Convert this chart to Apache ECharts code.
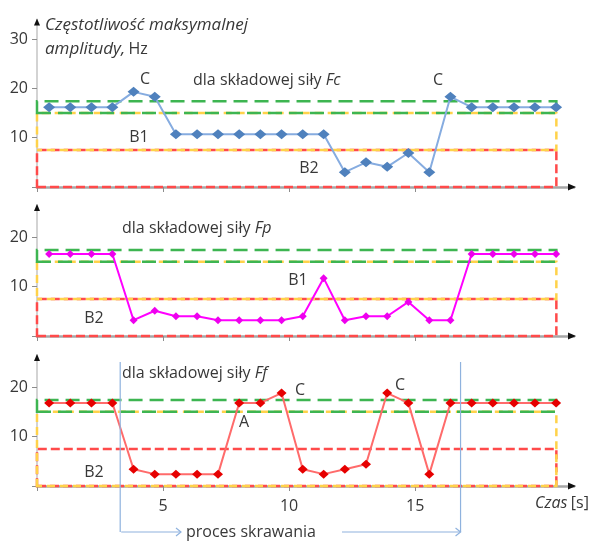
<!DOCTYPE html>
<html><head><meta charset="utf-8">
<script src="https://cdn.jsdelivr.net/npm/echarts@6/dist/echarts.min.js"></script>
<style>html,body{margin:0;padding:0;background:#fff}#c{width:589px;height:541px}</style>
</head><body><div id="c"></div>
<script>
// ---- data ----
const times = [0.48, 1.32, 2.16, 2.99, 3.83, 4.67, 5.51, 6.35, 7.18, 8.02, 8.86, 9.70, 10.54, 11.37, 12.21, 13.05, 13.89, 14.73, 15.56, 16.40, 17.24, 18.08, 18.92, 19.75, 20.59];
const fcValues = [16.2, 16.2, 16.2, 16.2, 19.3, 18.3, 10.7, 10.7, 10.7, 10.7, 10.7, 10.7, 10.7, 10.7, 3.0, 5.0, 4.1, 6.9, 3.0, 18.3, 16.2, 16.2, 16.2, 16.2, 16.2];
const fpValues = [16.6, 16.6, 16.6, 16.6, 3.2, 5.1, 4.0, 4.0, 3.2, 3.2, 3.2, 3.2, 4.0, 11.7, 3.2, 4.0, 4.0, 6.9, 3.2, 3.2, 16.6, 16.6, 16.6, 16.6, 16.6];
const ffValues = [16.8, 16.8, 16.8, 16.8, 3.4, 2.4, 2.4, 2.4, 2.4, 16.8, 16.8, 18.8, 3.4, 2.4, 3.4, 4.4, 18.8, 16.8, 2.4, 16.8, 16.8, 16.8, 16.8, 16.8, 16.8];
const xTickValues = [0, 5, 10, 15];
const xLabelValues = [5, 10, 15];
const yTicksTop = [0, 10, 20, 30];
const yLabelsTop = [10, 20, 30];
const yTicksLow = [0, 10, 20];
const yLabelsLow = [10, 20];
const zoneC = [15, 17.4];
const zoneB1 = [7.5, 15];
const zoneB2 = [0, 7.5];
const zoneB1Ff = [0, 15];
const zoneEnd = 20.6;
const processStart = 3.3, processEnd = 16.8;
const xMax = 21.3;

// ---- styling ----
const FONT = '"Open Sans", sans-serif';
const TXT = '#383838';
const FS = 16;
const GREEN = '#3db551', YELLOW = '#ffd24a', RED = '#ff4a4a';

const grids = [
  {left: 37, top: 19.4, width: 537, height: 167.6},
  {left: 37, top: 205, width: 537, height: 131},
  {left: 37, top: 355, width: 537, height: 131}
];
const yMaxes = [34, 26.5, 26.5];

function zoneItem(range, color, dash, offset) {
  return [
    {xAxis: 0, yAxis: range[0], itemStyle: {color: 'rgba(0,0,0,0)', borderColor: color, borderWidth: 2.5, borderType: dash, borderDashOffset: offset || 0}},
    {xAxis: zoneEnd, yAxis: range[1]}
  ];
}

const xAxes = grids.map((g, i) => ({
  gridIndex: i, type: 'value', min: 0, max: xMax,
  axisLine: {show: true, onZero: false, lineStyle: {color: '#a6a6a6', width: 2.5}},
  axisTick: {show: true, length: 5, lineStyle: {color: '#8c8c8c', width: 1}, customValues: xTickValues},
  axisLabel: {show: i === 2, customValues: xLabelValues, color: TXT, fontSize: 16, fontFamily: FONT, margin: 12},
  splitLine: {show: false}
}));
const yAxes = grids.map((g, i) => ({
  gridIndex: i, type: 'value', min: 0, max: yMaxes[i],
  axisLine: {show: true, lineStyle: {color: '#c4c4c4', width: 1.5}},
  axisTick: {show: true, length: 5, lineStyle: {color: '#8c8c8c', width: 1}, customValues: i === 0 ? yTicksTop : yTicksLow},
  axisLabel: {customValues: i === 0 ? yLabelsTop : yLabelsLow, color: TXT, fontSize: 16, fontFamily: FONT, margin: 9},
  splitLine: {show: false}
}));

function pairs(vals) { return vals.map((v, k) => [times[k], v]); }

const series = [
  {
    type: 'line', xAxisIndex: 0, yAxisIndex: 0, data: pairs(fcValues), z: 5,
    lineStyle: {color: '#86ace0', width: 2}, itemStyle: {color: '#4f81bd'},
    symbol: 'diamond', symbolSize: [12, 10], animation: false,
    markArea: {silent: true, z: 1, data: [
      zoneItem(zoneB2, RED, [9, 4]),
      zoneItem(zoneB1, YELLOW, [8, 5], 3),
      zoneItem(zoneC, GREEN, [14, 7])
    ]}
  },
  {
    type: 'line', xAxisIndex: 1, yAxisIndex: 1, data: pairs(fpValues), z: 5,
    lineStyle: {color: '#ff00ff', width: 2}, itemStyle: {color: '#ee00ee'},
    symbol: 'diamond', symbolSize: [8, 8], animation: false,
    markArea: {silent: true, z: 1, data: [
      zoneItem(zoneB2, RED, [9, 4]),
      zoneItem(zoneB1, YELLOW, [8, 5], 3),
      zoneItem(zoneC, GREEN, [14, 7])
    ]}
  },
  {
    type: 'line', xAxisIndex: 2, yAxisIndex: 2, data: pairs(ffValues), z: 5,
    lineStyle: {color: '#ff6b6b', width: 2}, itemStyle: {color: '#e60000'},
    symbol: 'diamond', symbolSize: [10, 9], animation: false,
    markArea: {silent: true, z: 1, data: [
      zoneItem(zoneB2, RED, [9, 4]),
      zoneItem(zoneB1Ff, YELLOW, [8, 5], 3),
      zoneItem(zoneC, GREEN, [14, 7])
    ]}
  }
];

const chart = echarts.init(document.getElementById('c'), null, {renderer: 'canvas'});
chart.setOption({
  animation: false, backgroundColor: '#fff',
  grid: grids, xAxis: xAxes, yAxis: yAxes, series: series
});

function txt(x, y, text, opts) {
  opts = opts || {};
  return {type: 'text', x: x, y: y, z: 20, silent: true,
    style: Object.assign({text: text, fill: TXT, fontSize: FS, fontFamily: FONT, align: opts.align || 'center', verticalAlign: 'middle'}, opts.style || {})};
}
function richTitle(x, y, plain, ital) {
  return {type: 'text', x: x, y: y, z: 20, silent: true,
    style: {text: '{n|' + plain + '}{i|' + ital + '}', align: 'left', verticalAlign: 'middle',
      rich: {n: {fill: TXT, fontSize: FS, fontFamily: FONT}, i: {fill: TXT, fontSize: FS, fontFamily: FONT, fontStyle: 'italic'}}}};
}

const g = [];
// y-axis title
g.push({type: 'text', x: 45, y: 37, z: 20, silent: true,
  style: {text: '{i|Częstotliwość maksymalnej}\n{i|amplitudy,} {n|Hz}', align: 'left', verticalAlign: 'middle',
    rich: {i: {fill: TXT, fontSize: 17, fontFamily: FONT, fontStyle: 'italic', lineHeight: 24},
           n: {fill: TXT, fontSize: 16, fontFamily: FONT, lineHeight: 24}}}});
// panel titles
g.push(richTitle(193, 80, 'dla składowej siły ', 'Fc'));
g.push(richTitle(122, 228, 'dla składowej siły ', 'Fp'));
g.push(richTitle(122, 373, 'dla składowej siły ', 'Ff'));
// zone annotations
g.push(txt(145, 79, 'C'), txt(438, 80, 'C'), txt(139, 137, 'B1'), txt(309, 168, 'B2'));
g.push(txt(298, 280, 'B1'), txt(94, 318, 'B2'));
g.push(txt(300, 390, 'C'), txt(400, 385, 'C'), txt(244, 422, 'A'), txt(94, 472, 'B2'));
// x axis name
g.push({type: 'text', x: 535, y: 503, z: 20, silent: true,
  style: {text: '{i|Czas} {n|[s]}', align: 'left', verticalAlign: 'middle',
    rich: {i: {fill: TXT, fontSize: FS, fontFamily: FONT, fontStyle: 'italic'}, n: {fill: TXT, fontSize: FS, fontFamily: FONT}}}});

// axis arrowheads
for (let i = 0; i < 3; i++) {
  const top = chart.convertToPixel({xAxisIndex: i, yAxisIndex: i}, [0, yMaxes[i]]);
  const right = chart.convertToPixel({xAxisIndex: i, yAxisIndex: i}, [xMax, 0]);
  g.push({type: 'polygon', z: 20, silent: true, shape: {points: [[top[0] - 3, top[1] + 6], [top[0] + 3, top[1] + 6], [top[0], top[1] - 1]]}, style: {fill: '#111'}});
  g.push({type: 'polygon', z: 20, silent: true, shape: {points: [[right[0] - 6, right[1] - 3.5], [right[0] - 6, right[1] + 3.5], [right[0] + 2, right[1]]]}, style: {fill: '#111'}});
}
// cutting process markers
const pL = chart.convertToPixel({xAxisIndex: 2, yAxisIndex: 2}, [processStart, 0])[0];
const pR = chart.convertToPixel({xAxisIndex: 2, yAxisIndex: 2}, [processEnd, 0])[0];
const BLUE = '#8fb2de';
const yTopP = 362, yBot = 532;
g.push({type: 'line', z: 15, silent: true, shape: {x1: pL, y1: yTopP, x2: pL, y2: yBot}, style: {stroke: BLUE, lineWidth: 1.2}});
g.push({type: 'line', z: 15, silent: true, shape: {x1: pR, y1: yTopP, x2: pR, y2: yBot}, style: {stroke: BLUE, lineWidth: 1.2}});
g.push({type: 'line', z: 15, silent: true, shape: {x1: pL + 1, y1: yBot, x2: 181, y2: yBot}, style: {stroke: BLUE, lineWidth: 1.2}});
g.push({type: 'polyline', z: 15, silent: true, shape: {points: [[176, yBot - 4], [181, yBot], [176, yBot + 4]]}, style: {stroke: BLUE, lineWidth: 1.2, fill: null}});
g.push({type: 'line', z: 15, silent: true, shape: {x1: 342, y1: yBot, x2: pR, y2: yBot}, style: {stroke: BLUE, lineWidth: 1.2}});
g.push({type: 'polyline', z: 15, silent: true, shape: {points: [[pR - 5, yBot - 4], [pR, yBot], [pR - 5, yBot + 4]]}, style: {stroke: BLUE, lineWidth: 1.2, fill: null}});
g.push(txt(186, 532, 'proces skrawania', {align: 'left'}));

chart.setOption({graphic: {elements: g}});
</script></body></html>
